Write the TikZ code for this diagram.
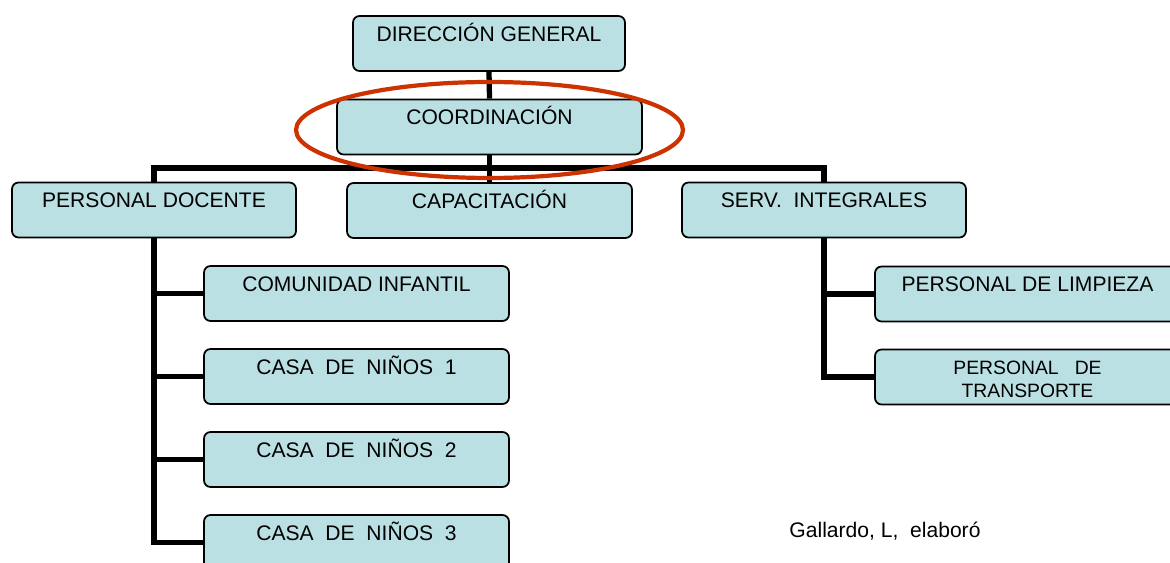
\documentclass[tikz,border=0pt]{standalone}
\usepackage{fontspec}
\setmainfont{Liberation Sans}
\definecolor{boxfill}{RGB}{187,224,227}
\definecolor{markred}{RGB}{204,51,0}

\begin{document}
\begin{tikzpicture}[x=0.02cm, y=-0.02cm,
    orgbox/.style={draw=black, line width=1pt, fill=boxfill, rounded corners=0.13cm,
        minimum height=1.1cm, inner sep=0pt, text height=0.51cm, text depth=0.59cm,
        font=\fontsize{12}{14}\selectfont},
    link/.style={line width=3pt}]
    \useasboundingbox (0,0) rectangle (1170,563);

    \node[orgbox, minimum width=5.44cm] (dir) at (489,43.5) {DIRECCIÓN GENERAL};
    \node[orgbox, minimum width=6.1cm] (coord) at (489.5,127) {COORDINACIÓN};
    \node[orgbox, minimum width=5.68cm] (doc) at (154,210) {PERSONAL DOCENTE};
    \node[orgbox, minimum width=5.7cm] (cap) at (489.5,210.5) {CAPACITACIÓN};
    \node[orgbox, minimum width=5.68cm] (serv) at (824,210) {SERV.\ \ INTEGRALES};

    \node[orgbox, minimum width=6.1cm] (ci) at (356.5,293.5) {COMUNIDAD INFANTIL};
    \node[orgbox, minimum width=6.1cm] (c1) at (356.5,376.5) {CASA\ \ DE\ \ NIÑOS\ \ 1};
    \node[orgbox, minimum width=6.1cm] (c2) at (356.5,459.5) {CASA\ \ DE\ \ NIÑOS\ \ 2};
    \node[orgbox, minimum width=6.1cm] (c3) at (356.5,542.5) {CASA\ \ DE\ \ NIÑOS\ \ 3};

    \node[orgbox, minimum width=6.1cm] (limp) at (1027.5,294) {PERSONAL DE LIMPIEZA};
    \node[orgbox, minimum width=6.1cm, align=center, text height=0.96cm, text depth=0.14cm,
        font=\fontsize{11}{13}\selectfont] (trans) at (1027.5,377) {PERSONAL\ \ \ DE\\TRANSPORTE};

    \coordinate (bar) at (489,168);
    \draw[link] (dir.south) -- (coord.north);
    \draw[link] (coord.south) -- (cap.north);
    \draw[link] (doc.north) |- (bar) -| (serv.north);
    \foreach \n in {ci,c1,c2,c3}
        \draw[link] (doc.south) |- (\n.west);
    \foreach \n in {limp,trans}
        \draw[link] (serv.south) |- (\n.west);

    \draw[markred, line width=2.4pt] ([yshift=-0.06cm]coord.center) ellipse [x radius=3.87cm, y radius=0.96cm];

    \node[anchor=base, font=\fontsize{12}{14}\selectfont] (credit) at (885,538) {Gallardo, L,\ \ elaboró};
\end{tikzpicture}
\end{document}
